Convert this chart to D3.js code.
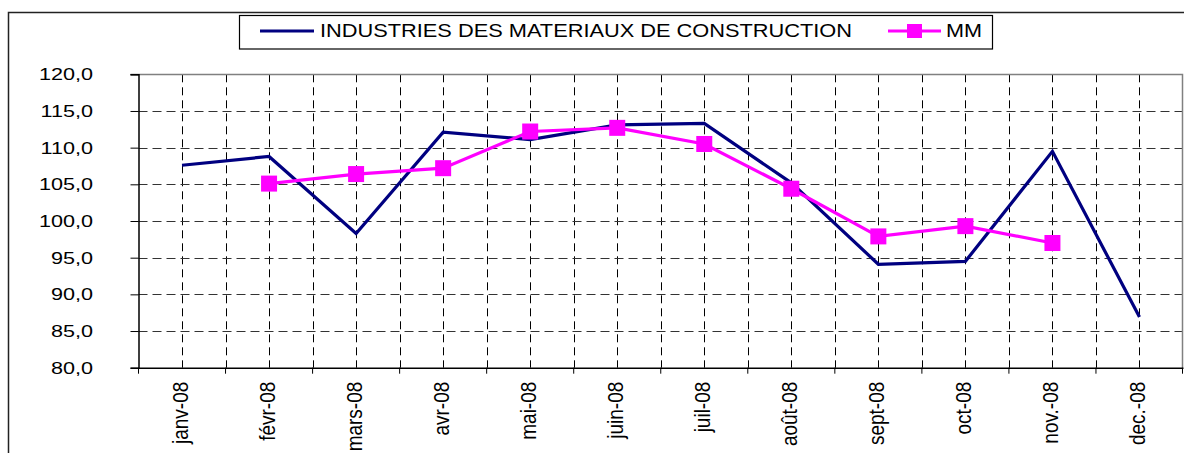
<!DOCTYPE html>
<html>
<head>
<meta charset="utf-8">
<script src="https://cdn.jsdelivr.net/npm/d3@7"></script>
<style>
    body { margin: 0; background: #fff; }
    text { font-family: Arial, "Liberation Sans", sans-serif; fill: #000; }
</style>
</head>
<body>
<div id="chart"></div>
<script>
// data
var months = ["janv-08", "févr-08", "mars-08", "avr-08", "mai-08", "juin-08",
    "juil-08", "août-08", "sept-08", "oct-08", "nov.-08", "dec.-08"];
var industrie = [107.6, 108.8, 98.3, 112.1, 111.1, 113.1, 113.3, 105.2, 94.1, 94.5, 109.5, 86.9];
var mm = [null, 105.1, 106.4, 107.2, 112.2, 112.7, 110.5, 104.4, 97.9, 99.3, 97.0, null];
var yTicks = [80, 85, 90, 95, 100, 105, 110, 115, 120];
var seriesNames = ["INDUSTRIES DES MATERIAUX DE CONSTRUCTION", "MM"];

var blue = "#000080", pink = "#ff00ff";

// dimensions
var W = 1184, H = 453;
var plot = { left: 138.5, right: 1183, top: 74.3, bottom: 367.7 };

var svg = d3.select("#chart")
    .append("svg")
    .attr("width", W)
    .attr("height", H);

// outer frame
svg.append("path")
    .attr("d", "M8.5," + H + "V12.5H" + W)
    .attr("fill", "none")
    .attr("stroke", "#222")
    .attr("stroke-width", 1.5);

// scales
var x = d3.scaleBand()
    .domain(months)
    .range([plot.left, plot.right])
    .padding(0);
var bw = x.bandwidth();
var cx = function (m) { return x(m) + bw / 2; };

var y = d3.scaleLinear()
    .domain([80, 120])
    .range([plot.bottom, plot.top]);

// grid : vertical lines at band edges and band centres
var vLines = [];
months.forEach(function (m, i) {
    if (i > 0) vLines.push(x(m));
    vLines.push(cx(m));
});
svg.append("g").selectAll("line")
    .data(vLines)
    .enter().append("line")
    .attr("x1", function (d) { return Math.round(d) + 0.5; })
    .attr("x2", function (d) { return Math.round(d) + 0.5; })
    .attr("y1", plot.top)
    .attr("y2", plot.bottom)
    .attr("stroke", "#000")
    .attr("stroke-width", 1)
    .attr("stroke-dasharray", "8,5");

svg.append("g").selectAll("line")
    .data(yTicks.filter(function (d) { return d > 80 && d < 120; }))
    .enter().append("line")
    .attr("x1", plot.left)
    .attr("x2", plot.right)
    .attr("y1", function (d) { return Math.round(y(d)) + 0.5; })
    .attr("y2", function (d) { return Math.round(y(d)) + 0.5; })
    .attr("stroke", "#333")
    .attr("stroke-width", 1)
    .attr("stroke-dasharray", "9,5");

// plot border top / right
svg.append("path")
    .attr("d", "M" + (plot.left - 8) + "," + (Math.round(plot.top) + 0.5) + "H" + (plot.right - 0.5) + "V" + plot.bottom)
    .attr("fill", "none")
    .attr("stroke", "#808080")
    .attr("stroke-width", 1.5);

// y axis
var yAxis = svg.append("g")
    .attr("transform", "translate(" + plot.left + ",0)")
    .call(d3.axisLeft(y).tickValues(yTicks).tickSize(8).tickFormat(""));
yAxis.select(".domain").attr("stroke", "#000").attr("stroke-width", 1.5);
yAxis.selectAll(".tick line").attr("stroke", "#000");

svg.append("g").selectAll("text")
    .data(yTicks)
    .enter().append("text")
    .attr("transform", function (d) { return "translate(93," + (y(d) + 6) + ") scale(1.27,1)"; })
    .attr("text-anchor", "end")
    .style("font-size", "17px")
    .text(function (d) { return d.toFixed(1).replace(".", ","); });

// x axis
var xAxis = svg.append("g")
    .attr("transform", "translate(0," + plot.bottom + ")")
    .call(d3.axisBottom(x).tickSize(0).tickFormat(""));
xAxis.select(".domain").attr("stroke", "#000").attr("stroke-width", 1.5);

svg.append("g").selectAll("line")
    .data(months.map(function (m) { return x(m); }).concat([plot.right - 0.5]))
    .enter().append("line")
    .attr("x1", function (d) { return d; })
    .attr("x2", function (d) { return d; })
    .attr("y1", plot.bottom)
    .attr("y2", plot.bottom + 6)
    .attr("stroke", "#000")
    .attr("stroke-width", 1);

svg.append("g").selectAll("text")
    .data(months)
    .enter().append("text")
    .attr("transform", function (d) { return "translate(" + (cx(d) + 6) + "," + (plot.bottom + 14) + ") rotate(-90) scale(1,1.18)"; })
    .attr("text-anchor", "end")
    .style("font-size", "19px")
    .text(function (d) { return d; });

// lines
var line = d3.line()
    .defined(function (d) { return d.v != null; })
    .x(function (d) { return cx(d.m); })
    .y(function (d) { return y(d.v); });

var blueData = months.map(function (m, i) { return { m: m, v: industrie[i] }; });
var pinkData = months.map(function (m, i) { return { m: m, v: mm[i] }; }).filter(function (d) { return d.v != null; });

svg.append("path")
    .datum(blueData)
    .attr("d", line)
    .attr("fill", "none")
    .attr("stroke", blue)
    .attr("stroke-width", 3.2);

svg.append("path")
    .datum(pinkData)
    .attr("d", line)
    .attr("fill", "none")
    .attr("stroke", pink)
    .attr("stroke-width", 3.2);

var ms = 16;
svg.append("g").selectAll("rect")
    .data(pinkData)
    .enter().append("rect")
    .attr("x", function (d) { return cx(d.m) - ms / 2; })
    .attr("y", function (d) { return y(d.v) - ms / 2; })
    .attr("width", ms)
    .attr("height", ms)
    .attr("fill", pink);

// legend
var lg = svg.append("g");
lg.append("rect")
    .attr("x", 239.5).attr("y", 15.5)
    .attr("width", 753).attr("height", 33.5)
    .attr("fill", "#fff")
    .attr("stroke", "#000")
    .attr("stroke-width", 1.2);

lg.append("line")
    .attr("x1", 260).attr("x2", 314)
    .attr("y1", 31).attr("y2", 31)
    .attr("stroke", blue).attr("stroke-width", 3.2);
lg.append("text")
    .attr("x", 320).attr("y", 37)
    .attr("textLength", 532)
    .attr("lengthAdjust", "spacingAndGlyphs")
    .style("font-size", "18px")
    .text(seriesNames[0]);

lg.append("line")
    .attr("x1", 888).attr("x2", 941)
    .attr("y1", 31).attr("y2", 31)
    .attr("stroke", pink).attr("stroke-width", 3.2);
lg.append("rect")
    .attr("x", 907).attr("y", 24)
    .attr("width", 15).attr("height", 14)
    .attr("fill", pink);
lg.append("text")
    .attr("x", 946).attr("y", 37)
    .attr("textLength", 36)
    .attr("lengthAdjust", "spacingAndGlyphs")
    .style("font-size", "18px")
    .text(seriesNames[1]);
</script>
</body>
</html>
